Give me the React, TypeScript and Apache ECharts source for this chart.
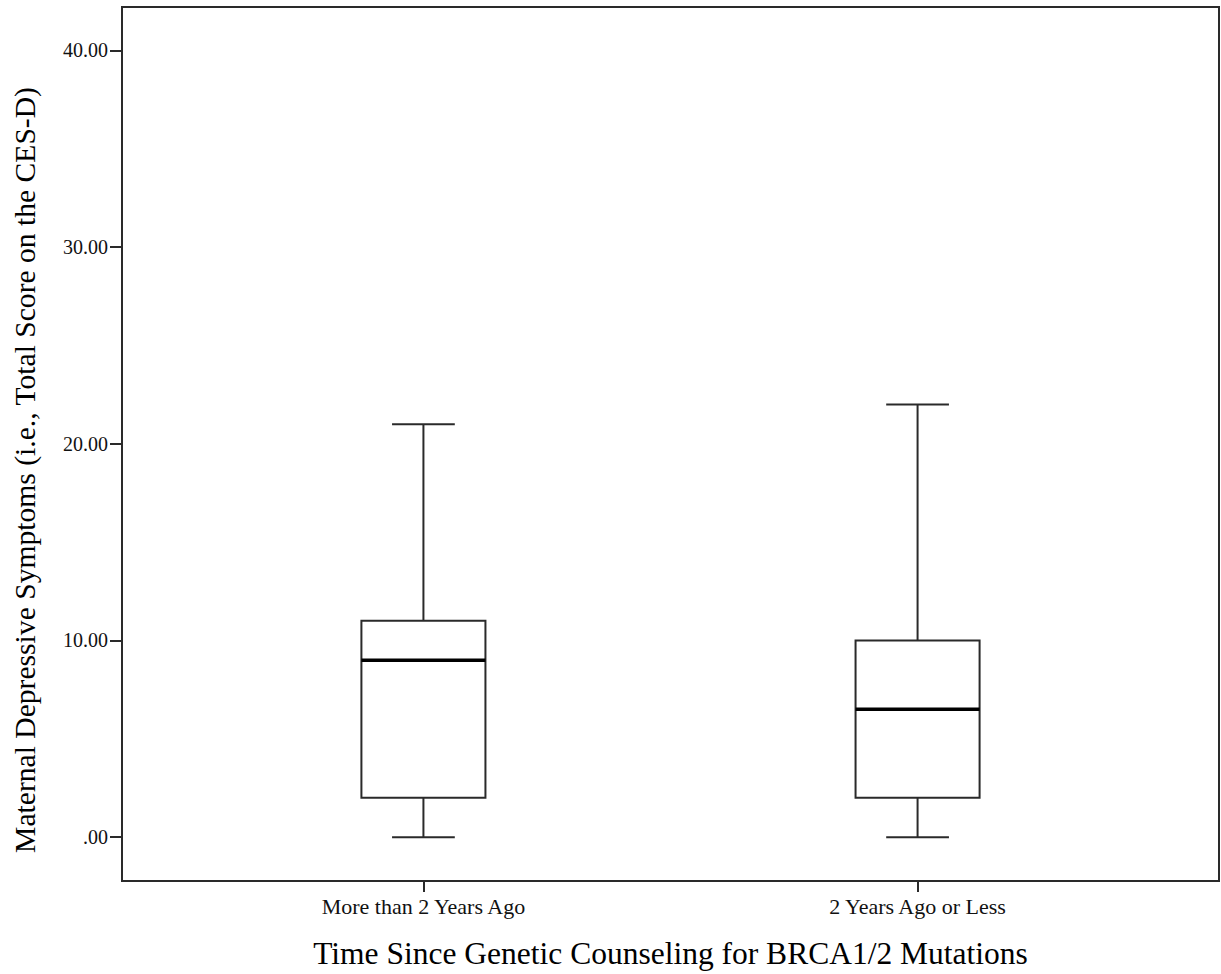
import React, { useEffect, useRef } from "react";
import * as echarts from "echarts";

const categories = ["More than 2 Years Ago", "2 Years Ago or Less"];
const mins = [0, 0];
const q1s = [2, 2];
const medians = [9, 6.5];
const q3s = [11, 10];
const maxs = [21, 22];
const yTicks = [0, 10, 20, 30, 40];
const xAxisTitle = "Time Since Genetic Counseling for BRCA1/2 Mutations";
const yAxisTitle = "Maternal Depressive Symptoms (i.e., Total Score on the CES-D)";

const formatY = (v: number) => {
  const s = v.toFixed(2);
  return s.startsWith("0") ? s.slice(1) : s;
};

export default function App() {
  const ref = useRef<HTMLDivElement>(null);
  useEffect(() => {
    if (!ref.current) return;
    const chart = echarts.init(ref.current, null, { renderer: "svg" });
    const data = categories.map((_, i) => [i, mins[i], q1s[i], medians[i], q3s[i], maxs[i]]);
    const font = "'Liberation Serif', 'Times New Roman', serif";
    chart.setOption({
      animation: false,
      backgroundColor: "#ffffff",
      grid: {
        left: 122,
        right: 2,
        top: 7,
        bottom: 92,
        show: true,
        borderColor: "#2a2a2a",
        borderWidth: 2,
        backgroundColor: "transparent",
      },
      xAxis: {
        type: "value",
        min: -0.61,
        max: 1.61,
        splitLine: { show: false },
        axisLine: { show: true, onZero: false, lineStyle: { color: "#2a2a2a", width: 2 } },
        axisTick: {
          show: true,
          customValues: [0, 1],
          length: 11,
          lineStyle: { color: "#2a2a2a", width: 2 },
        },
        axisLabel: {
          customValues: [0, 1],
          formatter: (v: number) => categories[Math.round(v)] ?? "",
          fontFamily: font,
          fontSize: 22,
          color: "#111",
          margin: 14,
        },
        name: xAxisTitle,
        nameLocation: "middle",
        nameGap: 56,
        nameTextStyle: { fontFamily: font, fontSize: 31.5, color: "#000" },
      },
      yAxis: {
        type: "value",
        min: -2.23,
        max: 42.21,
        splitLine: { show: false },
        axisLine: { show: true, onZero: false, lineStyle: { color: "#2a2a2a", width: 2 } },
        axisTick: {
          show: true,
          customValues: yTicks,
          length: 12,
          lineStyle: { color: "#2a2a2a", width: 2 },
        },
        axisLabel: {
          customValues: yTicks,
          formatter: (v: number) => formatY(v),
          fontFamily: font,
          fontSize: 20,
          color: "#111",
          margin: 14,
        },
      },
      graphic: [
        {
          type: "text",
          x: 25,
          y: 470,
          rotation: Math.PI / 2,
          style: {
            text: yAxisTitle,
            font: `29.6px ${font}`,
            fill: "#000",
            textAlign: "center",
            textVerticalAlign: "middle",
          },
        },
      ],
      series: [
        {
          type: "custom",
          data,
          encode: { x: 0, y: [1, 2, 3, 4, 5] },
          renderItem: (params: any, api: any) => {
            const x = api.value(0);
            const unit = api.size([1, 0])[0];
            const halfBox = unit * 0.1255;
            const halfCap = unit * 0.0635;
            const pMin = api.coord([x, api.value(1)]);
            const pQ1 = api.coord([x, api.value(2)]);
            const pMed = api.coord([x, api.value(3)]);
            const pQ3 = api.coord([x, api.value(4)]);
            const pMax = api.coord([x, api.value(5)]);
            const cx = pMin[0];
            const stroke = { stroke: "#2a2a2a", lineWidth: 2, fill: null };
            return {
              type: "group",
              children: [
                { type: "line", shape: { x1: cx, y1: pMax[1], x2: cx, y2: pQ3[1] }, style: stroke },
                { type: "line", shape: { x1: cx, y1: pQ1[1], x2: cx, y2: pMin[1] }, style: stroke },
                { type: "line", shape: { x1: cx - halfCap, y1: pMax[1], x2: cx + halfCap, y2: pMax[1] }, style: stroke },
                { type: "line", shape: { x1: cx - halfCap, y1: pMin[1], x2: cx + halfCap, y2: pMin[1] }, style: stroke },
                {
                  type: "rect",
                  shape: { x: cx - halfBox, y: pQ3[1], width: halfBox * 2, height: pQ1[1] - pQ3[1] },
                  style: { stroke: "#2a2a2a", lineWidth: 2, fill: "#ffffff" },
                },
                {
                  type: "line",
                  shape: { x1: cx - halfBox, y1: pMed[1], x2: cx + halfBox, y2: pMed[1] },
                  style: { stroke: "#000", lineWidth: 3.5 },
                },
              ],
            };
          },
        },
      ],
    });
    return () => chart.dispose();
  }, []);
  return (
    <div
      ref={ref}
      style={{ position: "fixed", left: 0, top: 0, width: 1221, height: 974 }}
    />
  );
}
